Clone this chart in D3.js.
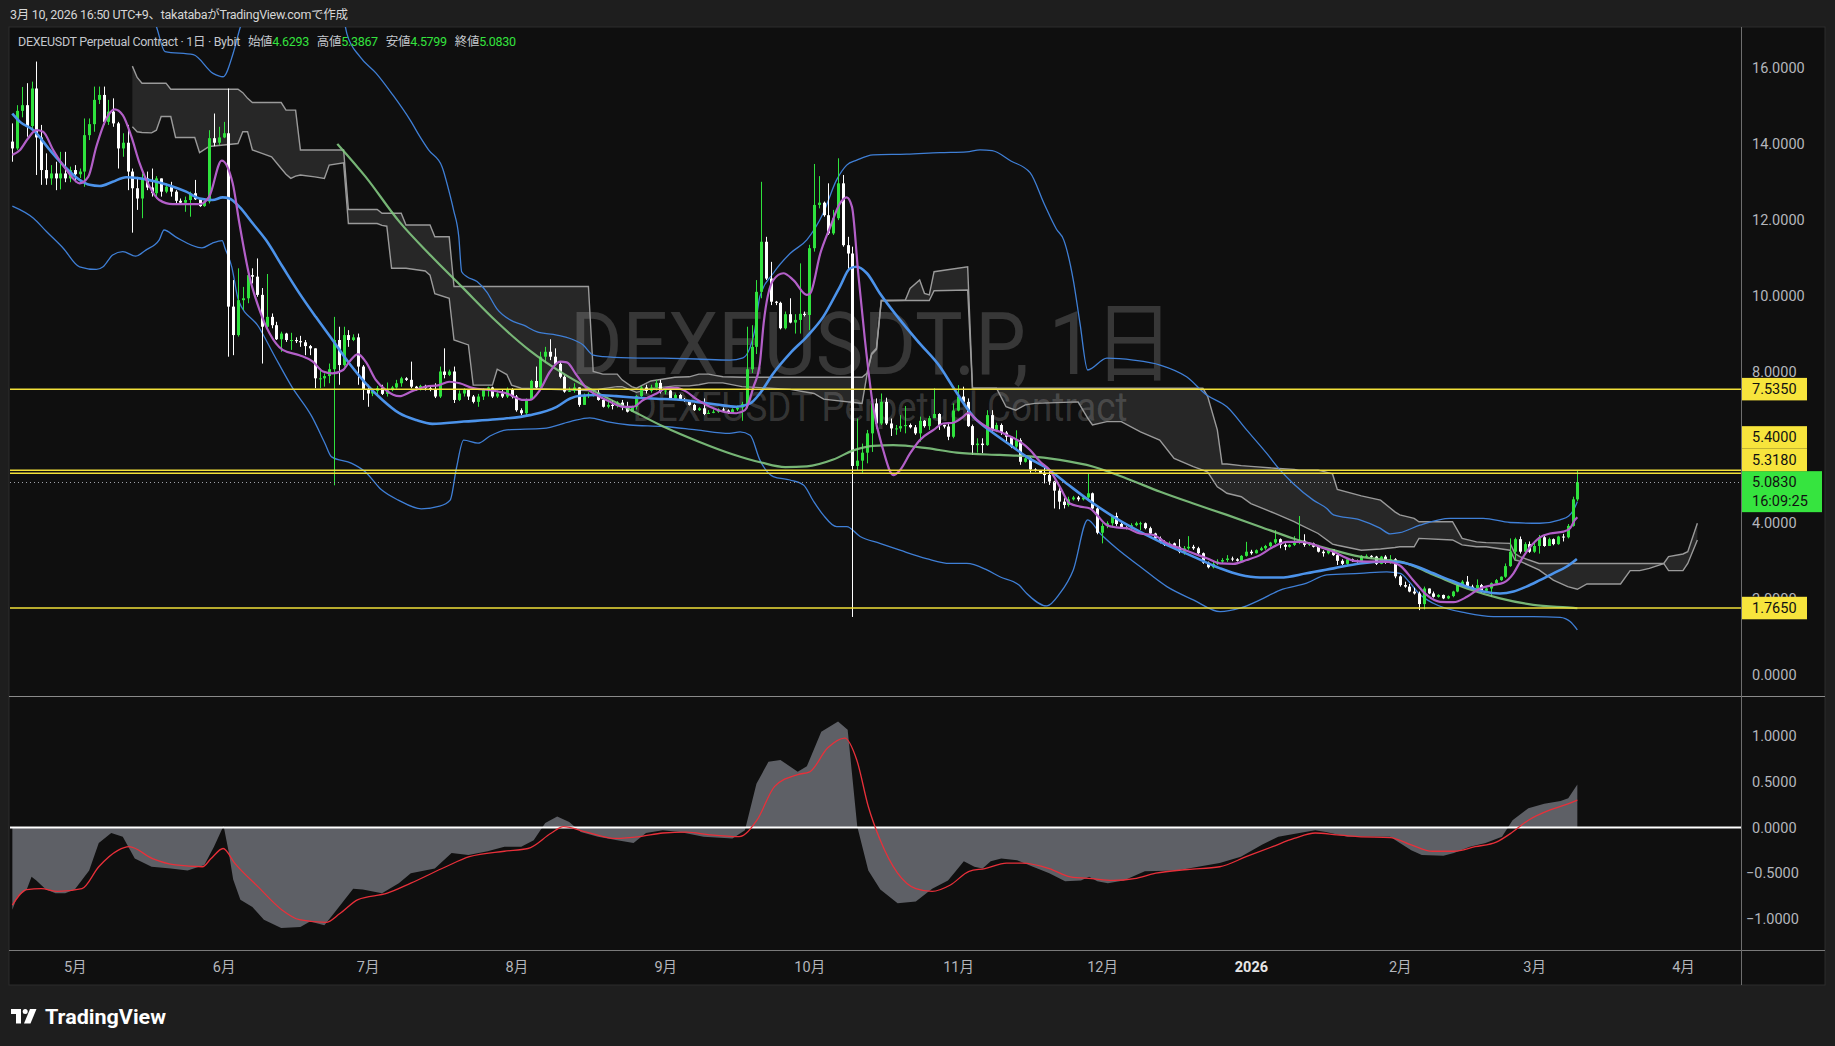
<!DOCTYPE html>
<html><head><meta charset="utf-8">
<script src="https://cdn.jsdelivr.net/npm/d3@7"></script>
<style>
html,body{margin:0;padding:0;background:#1e1e1e;overflow:hidden;}
svg{display:block;}
text{font-family:"Roboto","Noto Sans","Noto Sans CJK JP",sans-serif;}
</style></head><body>
<svg id="c" width="1835" height="1046"></svg>
<script>
// ---------------- DATA ----------------
// daily candles, first candle = 2025-04-18 (day -258 relative to 2026-01-01), last = 2026-03-10
const firstDay = -258;
const firstOpen = 14.06;
const lastOpen = 4.6293;
const closes = [
13.88,14.87,15.02,14.47,15.46,14.17,13.31,13.09,13.22,13.09,
13.22,13.09,13.31,13.2,13.27,14.23,14.52,15.16,15.29,14.58,
14.85,14.54,13.88,14.03,13.27,12.83,12.56,13.09,12.85,12.7,
13.09,12.74,12.87,12.74,12.5,12.45,12.52,12.7,12.54,12.36,
12.48,14.15,14.03,14.17,14.28,9.71,8.96,9.88,9.93,10.54,
10.5,10.02,9.18,9.44,9.22,8.85,9.0,8.83,8.83,8.8,
8.77,8.67,8.61,7.82,7.82,7.88,8.06,8.83,8.17,8.96,
8.83,8.9,8.13,7.53,7.42,7.49,7.56,7.41,7.51,7.58,
7.69,7.82,7.78,7.6,7.56,7.62,7.56,7.53,7.34,8.0,
7.91,8.0,7.25,7.42,
7.51,7.34,7.2,7.34,7.53,7.58,7.34,7.42,7.34,7.53,
7.34,6.98,6.9,7.25,7.75,7.58,8.39,8.52,8.39,8.2,
7.86,7.47,7.49,7.58,7.12,7.38,7.41,7.44,7.25,7.07,
7.12,7.09,7.18,7.09,6.94,7.07,7.35,7.58,7.49,7.58,
7.7,7.47,7.5,7.29,7.38,7.25,7.23,7.12,6.98,7.03,
6.88,6.91,6.94,7.0,6.97,6.91,7.0,7.05,7.14,8.06,
8.65,10.1,11.42,10.45,9.84,9.81,9.14,9.51,9.29,9.36,
9.52,9.49,11.25,12.39,12.45,12.12,11.64,12.04,12.96,11.33,
11.11,5.51,5.65,5.86,6.37,7.16,6.63,7.2,6.63,6.5,
6.5,6.56,6.59,6.53,6.37,6.7,6.56,6.77,6.88,6.59,
6.55,6.28,6.97,7.34,7.2,6.56,6.06,6.1,6.06,6.85,
6.46,6.59,
6.39,6.28,6.02,6.19,5.62,5.71,5.42,5.39,5.33,5.27,
5.1,4.86,4.57,4.48,4.63,4.68,4.63,4.68,4.79,4.39,
3.75,3.93,4.0,4.19,3.98,3.89,3.87,3.95,4.0,4.0,
3.87,3.73,3.6,3.51,3.43,3.47,3.38,3.25,3.34,3.38,
3.34,3.21,2.96,2.84,2.93,2.99,3.03,3.07,3.05,3.01,
3.14,3.25,3.21,3.29,3.34,3.4,3.49,3.58,3.43,3.38,
3.43,3.51,3.54,3.43,3.47,3.38,3.25,3.21,3.31,3.16,
3.01,2.93,3.05,3.01,2.99,3.14,3.14,3.12,2.93,3.12,
2.96,3.05,2.6,2.37,2.33,2.2,2.15,1.87,2.28,2.15,
2.06,2.11,2.02,2.08,2.2,2.37,2.46,2.33,2.28,2.37,
2.22,2.28,2.42,2.5,2.59,2.87,3.25,3.58,3.25,3.45,
3.25,3.4,3.63,3.4,3.58,3.45,3.65,3.63,3.93,4.63,
5.083];
const highs = [
14.54,15.02,15.5,15.6,15.64,16.17,14.5,13.75,13.44,13.53,
13.79,13.79,13.4,13.44,13.35,14.67,14.67,15.51,15.51,15.51,
15.16,15.2,14.58,14.28,14.5,13.35,13.13,13.22,13.27,13.35,
13.15,13.09,12.96,13.0,12.78,12.56,12.61,12.74,13.05,12.56,
12.5,14.36,14.8,14.45,14.58,15.46,10.41,10.72,10.23,10.67,
10.72,10.98,10.2,10.57,9.53,9.31,9.05,9.02,9.02,8.9,
8.94,8.83,8.7,8.61,8.08,7.95,8.21,9.44,9.18,9.18,
9.09,8.98,9.0,8.17,7.65,7.55,7.62,7.65,7.71,7.62,
7.78,7.86,7.85,8.26,7.62,7.65,7.65,7.6,7.69,8.13,
8.61,8.05,8.13,7.5,
7.56,7.53,7.38,7.41,7.56,7.6,7.6,7.5,7.53,7.58,
7.56,7.38,7.03,7.29,7.78,8.13,8.52,8.65,8.85,8.61,
8.26,7.9,7.58,7.69,7.56,7.42,7.45,7.5,7.51,7.3,
7.2,7.25,7.22,7.25,7.2,7.1,7.38,7.62,7.65,7.65,
7.78,7.78,7.55,7.56,7.42,7.41,7.3,7.25,7.15,7.06,
7.29,6.98,7.0,7.03,7.05,7.0,7.03,7.1,7.2,9.18,
9.22,10.41,13.0,11.55,10.89,9.86,9.84,9.58,9.93,9.51,
10.85,9.58,11.34,13.47,13.15,12.48,12.96,12.26,13.62,13.18,
11.55,11.29,6.76,6.1,6.46,7.29,7.29,7.42,7.31,6.76,
6.59,6.85,7.09,6.63,6.59,6.81,6.72,6.83,7.56,6.9,
6.6,6.63,7.16,7.64,7.6,7.29,6.6,6.24,6.24,6.98,
6.98,6.65,
6.63,6.43,6.3,6.45,6.24,5.75,5.75,5.45,5.4,5.49,
5.4,5.12,4.96,4.66,4.7,4.72,4.72,4.72,5.32,4.81,
4.44,4.0,4.05,4.22,4.28,4.02,3.92,4.0,4.04,4.04,
4.02,3.91,3.75,3.65,3.55,3.52,3.49,3.58,3.4,3.66,
3.43,3.38,3.23,2.99,2.99,3.05,3.08,3.16,3.12,3.08,
3.16,3.51,3.3,3.31,3.38,3.43,3.51,3.82,3.6,3.47,
3.45,3.66,4.19,3.71,3.5,3.49,3.43,3.29,3.34,3.31,
3.18,3.05,3.08,3.07,3.04,3.16,3.18,3.16,3.14,3.14,
3.16,3.16,3.08,2.63,2.46,2.4,2.3,2.2,2.33,2.23,
2.2,2.13,2.12,2.1,2.22,2.42,2.5,2.61,2.38,2.52,
2.4,2.31,2.44,2.53,2.6,2.94,3.6,3.62,3.65,3.5,
3.52,3.48,3.69,3.69,3.62,3.6,3.67,3.72,3.98,4.7,
5.3867];
const lows = [
13.53,13.84,14.7,14.19,14.35,13.18,12.92,12.92,12.92,12.78,
12.8,12.99,12.99,12.99,13.1,12.87,14.1,14.32,15.05,14.5,
14.5,14.45,13.35,13.66,12.78,11.66,12.26,12.04,12.78,12.61,
12.56,12.61,12.7,12.61,12.39,12.39,12.21,12.08,12.52,12.34,
12.34,12.43,13.94,13.97,14.15,8.39,8.43,8.92,9.62,9.8,
10.32,9.97,8.21,9.1,9.14,8.83,8.52,8.78,8.57,8.75,
8.65,8.43,8.43,7.56,7.56,7.6,7.69,5.0,7.65,8.13,
8.65,8.8,7.65,7.25,7.07,7.35,7.38,7.38,7.34,7.48,
7.55,7.6,7.75,7.56,7.5,7.5,7.5,7.48,7.3,7.3,
7.82,7.88,7.17,7.22,
7.34,7.25,7.16,7.07,7.25,7.34,7.3,7.3,7.3,7.3,
7.29,6.94,6.85,6.81,7.25,7.56,7.56,8.22,8.3,8.17,
7.82,7.44,7.46,7.44,7.07,7.14,7.3,7.34,7.23,7.05,
7.03,7.0,7.05,6.98,6.92,6.94,7.0,7.33,7.42,7.44,
7.5,7.42,7.4,7.25,7.25,7.23,7.2,7.1,6.96,6.96,
6.85,6.88,6.9,6.91,6.94,6.88,6.9,6.96,6.7,7.03,
7.96,8.46,9.93,10.41,9.75,9.75,9.11,9.11,9.27,9.0,
9.0,9.45,9.09,11.16,12.3,12.08,11.6,11.6,11.99,11.29,
10.68,1.53,5.4,5.33,5.58,5.88,6.5,6.59,6.59,6.3,
6.33,6.41,6.37,6.5,6.33,6.15,6.52,6.46,6.83,6.46,
6.5,6.19,6.24,6.95,7.15,6.54,5.8,5.86,5.85,6.04,
6.37,6.4,
6.33,6.1,5.98,5.93,5.54,5.6,5.33,5.36,5.3,5.05,
5.01,4.39,4.37,4.39,4.44,4.6,4.58,4.6,4.6,4.37,
3.71,3.47,3.87,3.93,3.93,3.87,3.84,3.82,3.92,3.82,
3.84,3.69,3.58,3.47,3.4,3.4,3.35,3.21,3.17,3.3,
3.3,3.16,2.93,2.81,2.81,2.9,2.95,2.98,3.0,2.99,
2.99,3.12,3.17,3.2,3.27,3.3,3.36,3.45,3.34,3.29,
3.36,3.4,3.45,3.38,3.4,3.36,3.23,3.12,3.18,3.14,
2.9,2.9,2.9,2.98,2.96,2.97,3.08,3.07,2.9,2.92,
2.93,2.93,2.55,2.33,2.3,2.18,2.12,1.71,1.73,2.13,
2.04,2.04,2.0,2.0,2.05,2.18,2.35,2.31,2.25,2.24,
2.17,2.2,2.06,2.4,2.48,2.56,2.85,3.03,3.2,3.2,
3.22,3.22,3.2,3.38,3.4,3.42,3.43,3.52,3.6,3.91,
4.5799];

// Ichimoku cloud [day, upper edge, lower edge]
const cloudPts = [
[-233,16.05,14.45],[-232,15.75,14.32],[-231,15.6,14.3],[-229,15.6,14.29],[-228,15.6,14.36],[-227,15.6,14.72],
[-226,15.6,14.72],[-225,15.44,14.72],[-224,15.44,14.17],[-220,15.44,14.17],[-219,15.44,13.77],[-217,15.44,13.93],
[-211,15.44,14.01],[-210,15.35,14.32],[-209,15.2,14.32],[-208,15.09,13.84],[-206,15.09,13.75],[-204,15.09,13.66],
[-202,15.09,13.35],[-201,14.89,13.2],[-200,14.89,13.09],[-199,14.89,13.15],[-198,13.84,13.18],[-195,13.84,13.13],
[-193,13.84,13.09],[-192,13.84,13.44],[-189,13.84,13.5],[-188,12.27,11.9],[-182,12.27,11.9],[-181,12.17,11.85],
[-180,12.17,11.83],[-179,12.17,10.72],[-177,12.17,10.72],[-176,11.86,10.72],[-172,11.86,10.65],[-171,11.86,10.54],
[-170,11.55,10.05],[-167,11.55,9.93],[-166,10.24,8.83],[-163,10.24,8.7],[-162,10.24,7.64],[-158,10.24,7.64],
[-157,10.24,8.06],[-155,10.24,7.92],[-154,10.24,7.64],[-152,10.24,7.56],[-138,10.24,7.5],[-137,8.0,7.5],
[-135,7.93,7.55],[-132,7.93,7.6],[-131,7.78,7.6],[-129,7.6,7.5],[-128,7.56,7.45],[-125,7.75,7.55],
[-120,7.85,7.62],[-117,7.86,7.62],[-115,7.93,7.65],[-113,7.93,7.7],[-110,7.86,7.7],[-106,7.85,7.6],
[-96,7.85,7.53],[-91,7.85,7.42],[-89,7.85,7.27],[-81,7.85,7.16],[-80,7.95,7.9],[-79,8.48,8.45],
[-78,8.61,8.58],[-77,9.88,9.86],[-72,9.88,9.87],[-71,10.19,9.87],[-69,10.41,9.87],[-68,10.06,9.87],
[-67,10.02,9.87],[-66,10.63,10.13],[-59,10.76,10.15],[-58,7.56,7.56],[-53,7.56,7.56],[-51,7.56,7.07],
[-49,7.56,6.98],[-47,7.56,7.12],[-45,7.56,7.16],[-36,7.56,7.2],[-34,7.56,6.77],[-33,7.56,6.59],
[-30,7.56,6.68],[-27,7.56,6.68],[-23,7.56,6.41],[-19,7.56,6.19],[-16,7.56,5.71],[-12,7.56,5.49],
[-10,7.56,5.4],[-9,7.34,5.35],[-7,6.46,4.96],[-6,5.56,4.88],[-5,5.56,4.79],[-2,5.52,4.7],
[0,5.5,4.52],[5,5.45,4.26],[9,5.42,4.04],[10,5.4,3.98],[14,5.4,3.73],[17,5.3,3.45],
[18,4.89,3.42],[23,4.72,3.29],[27,4.61,3.32],[30,4.3,3.36],[31,4.22,3.38],[34,4.13,3.38],
[35,4.04,3.6],[42,4.04,3.56],[44,3.6,3.43],[47,3.51,3.38],[49,3.49,3.38],[54,3.47,3.29],
[55,3.2,3.03],[56,3.12,3.0],[60,2.94,2.77],[63,2.94,2.5],[66,2.94,2.33],[68,2.94,2.26],
[70,2.94,2.4],[77,2.94,2.4],[79,2.94,2.75],[81,2.94,2.75],[83,2.94,2.81],[86,2.94,2.94],
[87,3.12,2.75],[90,3.19,2.75],[91,3.25,2.94],[93,4.0,3.56]];

// Bollinger bands [day, value]
const bbUpper = [
[-258,17.9],[-235,17.8],[-229,17.4],[-228,17.09],[-226.2,16.43],[-220.3,16.35],[-216.2,15.86],[-214.1,15.77],
[-212,16.39],[-210.6,17.04],[-205,18.2],[-195,18.6],[-189,17.3],[-188.3,16.9],[-185.6,16.3],[-182.2,15.86],
[-178.8,15.3],[-175,14.6],[-173.1,14.19],[-171.3,13.84],[-168.5,13.4],[-167.1,12.78],[-166.1,12.26],[-165,11.55],
[-164.4,10.63],[-163.3,10.5],[-161.2,10.37],[-159.2,10.1],[-157.1,9.66],[-154.3,9.36],[-151.5,9.22],[-148.8,9.05],
[-144.6,8.96],[-141.8,8.87],[-139.1,8.7],[-137,8.43],[-134.9,8.39],[-129.4,8.36],[-122.4,8.35],[-115.5,8.33],
[-108.6,8.3],[-105.8,8.36],[-104.4,8.61],[-103.4,9.05],[-102.3,9.97],[-99.5,10.59],[-96,11.11],[-92.5,11.47],
[-89.1,12.17],[-86.3,13.05],[-84.2,13.44],[-82.1,13.57],[-78.7,13.71],[-71.7,13.73],[-64.8,13.77],[-59.2,13.79],
[-56.4,13.84],[-53.9,13.82],[-50,13.55],[-46,13.24],[-43,12.4],[-40.5,11.75],[-39,11.47],[-37,10.41],
[-35.6,9.27],[-34,8.04],[-30,8.35],[-24.5,8.3],[-18.9,8.17],[-13.4,7.86],[-9.2,7.38],[-5,7.07],
[-0.9,6.46],[3.3,5.84],[6.1,5.4],[8.8,5.05],[13,4.61],[15.8,4.39],[17.2,4.22],[22.7,4.09],
[26.9,3.87],[29,3.72],[31,3.75],[35.2,3.95],[41.5,4.13],[48.4,4.13],[54,4.02],[60.2,4.0],
[64.4,4.09],[66.2,4.19],[67.2,4.35],[68,4.57]];
const bbBasis = [
[-258,14.8],[-256.4,14.58],[-253.6,14.36],[-250.2,13.84],[-246.7,13.35],[-244,13.05],[-241.9,12.92],[-239.8,12.89],
[-237.1,13.0],[-234.3,13.12],[-231.5,13.09],[-228,13.0],[-224.5,12.87],[-221.8,12.74],[-219,12.56],[-216.3,12.52],
[-214.2,12.59],[-212.8,12.56],[-210.7,12.34],[-207.9,11.9],[-205.2,11.47],[-201.7,10.76],[-198.2,10.06],[-194.8,9.44],
[-191.3,8.83],[-187.8,8.21],[-184.4,7.69],[-180.9,7.25],[-177.4,6.9],[-173.9,6.72],[-170.5,6.62],[-164,6.68],
[-157.1,6.74],[-150.2,6.85],[-144.6,7.07],[-141.8,7.29],[-139.8,7.36],[-136.3,7.38],[-132.2,7.35],[-128,7.31],
[-123.8,7.28],[-119.7,7.26],[-115.5,7.2],[-111.3,7.13],[-107.2,7.07],[-104.3,7.16],[-102.3,7.42],[-99.5,7.95],
[-96,8.48],[-92.5,8.92],[-89.1,9.44],[-85.6,10.24],[-83.5,10.72],[-82.1,10.76],[-80,10.59],[-77.3,10.06],
[-73.1,9.36],[-69,8.74],[-64.8,8.13],[-62.1,7.6],[-57.8,6.81],[-53.6,6.37],[-50,6.05],[-46.7,5.75],
[-42.5,5.45],[-38.4,5.05],[-32.8,4.52],[-28.6,4.17],[-24.5,3.87],[-18.9,3.51],[-12,3.12],[-6.4,2.81],
[-2.3,2.64],[1.9,2.57],[6.1,2.57],[11.6,2.68],[17.2,2.81],[22.7,2.94],[28.3,2.99],[31.1,2.97],
[34.5,2.86],[38,2.68],[41.5,2.5],[45,2.33],[48.4,2.2],[51.9,2.15],[54.7,2.2],[57.4,2.33],
[60.2,2.5],[63,2.68],[65.8,2.86],[67.9,3.06]];
const bbLower = [
[-258,12.36],[-253.6,12.04],[-250.9,11.69],[-247.4,11.25],[-244,10.76],[-240.5,10.69],[-239.1,10.76],[-237.1,11.07],
[-235,11.16],[-232.3,11.04],[-230.2,11.2],[-227.4,11.47],[-226.4,11.73],[-224,11.55],[-218.5,11.26],[-216.4,11.38],
[-214.3,11.45],[-213.7,11.25],[-212.3,10.76],[-210.9,9.88],[-206.7,9.18],[-203.3,8.39],[-199.8,7.6],[-195.6,6.81],
[-192.9,6.11],[-191.5,5.75],[-187.3,5.58],[-184.5,5.36],[-181.1,4.88],[-177.6,4.61],[-172.8,4.38],[-169,4.45],
[-166.8,4.61],[-165.5,5.45],[-164,6.19],[-161,6.11],[-158.5,6.3],[-155,6.46],[-147.4,6.5],[-141.8,6.68],
[-137.7,6.78],[-134.2,6.68],[-129.4,6.59],[-122.4,6.55],[-115.5,6.46],[-108.6,6.37],[-106.4,6.41],[-104.3,6.32],
[-102.3,5.67],[-99.5,5.23],[-96,5.14],[-93.2,5.01],[-91.2,4.6],[-89.1,4.22],[-86.3,3.91],[-84.2,3.91],
[-81.4,3.65],[-77.3,3.47],[-73.1,3.29],[-67.6,3.07],[-62.7,2.94],[-59.2,2.94],[-55,2.77],[-52.3,2.59],
[-48.3,2.37],[-46.7,2.15],[-42.5,1.82],[-39.8,2.15],[-37,2.77],[-34,4.09],[-31.4,3.73],[-28,3.34],
[-23.1,2.86],[-17.5,2.33],[-12,1.98],[-6.4,1.67],[-2.3,1.76],[1.9,1.98],[6.1,2.24],[11.6,2.42],
[15.8,2.64],[22.7,2.68],[28.3,2.72],[31.1,2.68],[33,2.45],[35.2,2.12],[38,1.89],[45,1.63],
[50.5,1.54],[58.8,1.54],[64.4,1.52],[66.5,1.41],[68,1.19]];

// short moving average (purple)
const maShort = [
[-258,13.71],[-256.4,13.84],[-254.7,14.15],[-253,14.36],[-251.6,14.32],[-249.5,13.84],[-246.7,13.31],[-244,12.96],
[-242.2,13.13],[-240.5,13.93],[-238.4,14.67],[-236.7,14.91],[-235,14.76],[-233.2,14.19],[-231.5,13.49],[-229.4,12.87],
[-227.4,12.52],[-224.6,12.41],[-221.8,12.41],[-219,12.41],[-217,12.61],[-214.4,13.56],[-212.1,12.96],[-210.7,11.9],
[-208.6,10.5],[-206.5,9.62],[-204.4,9.0],[-201.7,8.57],[-198.2,8.43],[-195.4,8.26],[-193.3,8.0],[-191.3,7.95],
[-189.1,8.04],[-187.8,8.26],[-186,8.46],[-184.4,8.26],[-182.3,7.78],[-180.2,7.51],[-177.4,7.35],[-174.6,7.49],
[-171.8,7.6],[-169.1,7.64],[-167,7.73],[-164.8,7.69],[-162,7.56],[-158.5,7.51],[-155,7.42],[-151.5,7.25],
[-150.2,7.25],[-148.1,7.51],[-146,8.0],[-143.9,8.26],[-142.5,8.24],[-140.5,7.91],[-138.4,7.56],[-136.3,7.38],
[-133.5,7.2],[-130.7,7.07],[-128.7,7.07],[-126.6,7.25],[-123.8,7.42],[-121.7,7.56],[-119.7,7.57],[-117.6,7.47],
[-115.5,7.27],[-112.7,7.07],[-109.9,6.94],[-107.2,6.9],[-105.4,6.98],[-103.6,7.6],[-102.3,8.2],[-101.5,9.27],
[-99.5,10.41],[-97.4,10.59],[-95.3,10.41],[-92.5,10.02],[-91.8,10.06],[-89.7,11.11],[-87.6,11.82],[-85.6,12.43],
[-84.2,12.59],[-83.1,12.34],[-81.8,10.59],[-80.4,8.83],[-78.7,7.07],[-76.6,5.93],[-74.5,5.27],[-73.1,5.4],
[-71,5.84],[-69,6.19],[-66.1,6.46],[-64.1,6.63],[-62,6.65],[-59.9,6.81],[-58.9,6.91],[-57.1,6.72],
[-54.4,6.5],[-52.3,6.41],[-50.9,6.33],[-48.1,6.15],[-46,5.93],[-43.9,5.62],[-41.9,5.4],[-39.8,4.96],
[-37.7,4.52],[-35.6,4.44],[-33.5,4.39],[-32.1,4.22],[-30,3.95],[-28,3.89],[-25.9,3.87],[-23.1,3.73],
[-20.3,3.69],[-17.5,3.47],[-14.8,3.34],[-12,3.21],[-9.2,3.08],[-6.4,2.94],[-3.7,2.93],[-0.9,3.03],
[1.9,3.16],[4.7,3.38],[7.5,3.51],[10.2,3.51],[12.3,3.47],[15.1,3.34],[17.2,3.25],[19.3,3.12],
[21.4,3.01],[24.1,2.99],[27.6,2.99],[29.7,2.96],[31.1,2.88],[33.8,2.5],[36.6,2.11],[39.4,1.93],
[42.2,1.92],[45,2.06],[47.7,2.28],[50.5,2.37],[52.6,2.43],[54.7,2.68],[56.1,2.99],[58.2,3.38],
[60.2,3.63],[62.3,3.73],[65.1,3.78],[66.5,3.87],[67.5,4.09],[68,4.16]];

// long moving average (green)
const maLong = [
[-190.3,14.0],[-184.4,13.13],[-177.4,11.95],[-170.8,11.05],[-164.5,10.25],[-157.1,9.31],[-150.2,8.55],[-143.3,7.95],
[-136.3,7.45],[-129.4,7.0],[-122.4,6.55],[-115,6.15],[-108,5.82],[-102,5.6],[-97,5.48],[-92.5,5.5],
[-87,5.68],[-82.8,5.92],[-78.7,6.04],[-74.5,6.06],[-67.5,5.98],[-61.3,5.86],[-52.3,5.8],[-46.7,5.77],
[-39.8,5.67],[-32.8,5.49],[-25.9,5.18],[-18.9,4.83],[-12,4.52],[-5,4.22],[1.9,3.91],[8.8,3.6],
[15.8,3.34],[22.7,3.12],[29.7,3.01],[31.1,2.99],[38,2.64],[45,2.28],[51.9,2.02],[58.8,1.85],
[65.8,1.78],[68,1.76]];

// lower pane oscillator (gray area) and its signal (red)
const oscHist = [
[-258,-0.9],[-257,-0.76],[-255,-0.68],[-254,-0.54],[-253,-0.58],[-251,-0.68],[-249,-0.72],[-247,-0.72],
[-245,-0.68],[-242,-0.47],[-240,-0.17],[-237.4,-0.06],[-235,-0.1],[-232.5,-0.34],[-229,-0.43],[-225,-0.45],
[-221.5,-0.47],[-218,-0.41],[-216,-0.21],[-214,0.02],[-213,-0.25],[-212,-0.57],[-210.5,-0.79],[-208,-0.87],
[-205.6,-1.01],[-202,-1.1],[-198,-1.09],[-196,-1.03],[-193,-1.07],[-191,-0.94],[-187,-0.67],[-185,-0.68],
[-181,-0.72],[-177.5,-0.61],[-175,-0.5],[-170,-0.45],[-166.5,-0.28],[-163,-0.3],[-159,-0.26],[-155.5,-0.21],
[-152,-0.21],[-149.4,-0.14],[-147,0.05],[-144.5,0.12],[-142,0.06],[-139.6,-0.05],[-136,-0.1],[-132,-0.14],
[-128.6,-0.17],[-126,-0.06],[-122.5,-0.03],[-119,-0.05],[-114,-0.1],[-108,-0.12],[-105.4,-0.03],[-103,0.48],
[-100.5,0.72],[-98,0.74],[-94.4,0.61],[-92.5,0.67],[-89.5,1.05],[-86,1.16],[-84,1.07],[-82,0.01],
[-79.7,-0.47],[-77.2,-0.68],[-73.6,-0.83],[-69.8,-0.81],[-66.4,-0.67],[-63.1,-0.58],[-61.5,-0.48],[-59.8,-0.37],
[-57.6,-0.43],[-55.9,-0.45],[-54.2,-0.37],[-52,-0.34],[-48.7,-0.36],[-45.4,-0.43],[-42,-0.5],[-38.7,-0.59],
[-35.4,-0.58],[-33.7,-0.54],[-32,-0.59],[-29.8,-0.61],[-26.5,-0.58],[-22.1,-0.48],[-15.4,-0.47],[-11,-0.43],
[-6.5,-0.39],[-2.1,-0.32],[2.3,-0.19],[5.7,-0.1],[10.1,-0.06],[13.4,-0.03],[15.6,-0.05],[20.1,-0.1],
[24.5,-0.1],[29,-0.1],[33.4,-0.25],[35.6,-0.3],[40.1,-0.31],[42.3,-0.28],[45.6,-0.21],[48.9,-0.17],
[52.3,-0.1],[54.5,0.08],[57.8,0.21],[61.1,0.26],[64.5,0.29],[66.1,0.32],[68,0.47]];
const oscSignal = [
[-258,-0.85],[-255,-0.68],[-252,-0.67],[-248.5,-0.7],[-243.5,-0.67],[-240,-0.43],[-236,-0.25],[-233.7,-0.21],
[-228.8,-0.34],[-224,-0.41],[-218.4,-0.43],[-216.6,-0.34],[-214.1,-0.23],[-211.7,-0.39],[-206.8,-0.65],[-201.9,-0.9],
[-198.2,-1.01],[-192.7,-1.04],[-189.7,-0.94],[-186,-0.79],[-179.9,-0.72],[-175,-0.61],[-167.7,-0.43],[-162.8,-0.32],
[-155.5,-0.26],[-150.6,-0.23],[-145.7,-0.06],[-143.2,0.01],[-138.4,-0.05],[-132.2,-0.12],[-127.3,-0.1],[-122.5,-0.06],
[-117.6,-0.05],[-112.7,-0.08],[-106.6,-0.1],[-102.9,0.08],[-99.2,0.45],[-94.4,0.58],[-91.9,0.61],[-88.2,0.87],
[-84.6,0.98],[-82.1,0.74],[-79.7,0.23],[-77.2,-0.14],[-73.6,-0.5],[-69.8,-0.67],[-66.4,-0.7],[-62.6,-0.63],
[-58.7,-0.48],[-55.4,-0.45],[-50.9,-0.39],[-47.6,-0.39],[-42,-0.45],[-37.6,-0.54],[-33.2,-0.56],[-28.7,-0.58],
[-24.3,-0.56],[-19.8,-0.5],[-13.2,-0.46],[-6.5,-0.43],[-1,-0.32],[4.5,-0.21],[9,-0.12],[13.4,-0.06],
[17.9,-0.08],[22.3,-0.1],[29,-0.11],[33.4,-0.19],[37.8,-0.26],[42.3,-0.26],[46.7,-0.21],[51.1,-0.16],
[54.5,-0.05],[57.8,0.08],[62.2,0.19],[65.6,0.25],[68,0.3]];

// horizontal levels and axis ticks (6.0000 is hidden behind the level labels in the reference)
const levelLines = [7.535, 5.4, 5.318, 1.765];
const priceTicks = [0,2,4,8,10,12,14,16];
const oscTicks = [-1,-0.5,0,0.5,1];
const timerText = "16:09:25";
const headerText = "3月 10, 2026 16:50 UTC+9、takatabaがTradingView.comで作成";
const symbolText = "DEXEUSDT Perpetual Contract · 1日 · Bybit";
const watermark1 = "DEXEUSDT.P, 1日";
const watermark2 = "DEXEUSDT Perpetual Contract";

// ---------------- DRAW ----------------
const W = 1835, H = 1046, DAY = 864e5, T0 = Date.UTC(2026,0,1);
const dt = d => new Date(T0 + d*DAY);
const svg = d3.select('#c');
const L = {x0:10, x1:1741, top:27, pBot:696, oTop:697, oBot:950, aBot:985, right:1825};

const x = d3.scaleUtc().domain([dt(-258.49), dt(102.09)]).range([L.x0, L.x1]);
const yP = d3.scaleLinear().domain([0,16]).range([675,68]);
const yO = d3.scaleLinear().domain([-1,1]).range([918.8,736.2]);

const UP = '#2fe23d', DN = '#ffffff';
const pts = arr => arr.map(([d,v]) => ({date: dt(d), v}));

// backgrounds
svg.append('rect').attr('width',W).attr('height',H).attr('fill','#1e1e1e');
svg.append('rect').attr('x',9).attr('y',L.top).attr('width',L.right-9).attr('height',L.aBot-L.top)
  .attr('fill','#0f0f0f').attr('stroke','#2c2c2c');

const defs = svg.append('defs');
defs.append('clipPath').attr('id','cp').append('rect').attr('x',L.x0).attr('y',L.top).attr('width',L.x1-L.x0).attr('height',L.pBot-L.top);
defs.append('clipPath').attr('id','co').append('rect').attr('x',L.x0).attr('y',L.oTop).attr('width',L.x1-L.x0).attr('height',L.oBot-L.oTop);

const gP = svg.append('g').attr('clip-path','url(#cp)');
// watermark
gP.append('text').attr('x',872).attr('y',374).attr('text-anchor','middle')
  .attr('font-family','"Noto Sans","Noto Sans CJK JP",sans-serif').attr('font-size',88)
  .attr('fill','rgba(255,255,255,0.17)').attr('textLength',604).attr('lengthAdjust','spacingAndGlyphs').text(watermark1);
gP.append('text').attr('x',880).attr('y',421).attr('text-anchor','middle')
  .attr('font-family','"Noto Sans",sans-serif').attr('font-size',40)
  .attr('fill','rgba(255,255,255,0.17)').attr('textLength',495).attr('lengthAdjust','spacingAndGlyphs').text(watermark2);

// cloud
const cloud = cloudPts.map(([d,u,l]) => ({date: dt(d), u, l}));
gP.append('path').datum(cloud).attr('fill','rgba(255,255,255,0.1)')
  .attr('d', d3.area().x(p=>x(p.date)).y0(p=>yP(p.l)).y1(p=>yP(p.u)));
['u','l'].forEach(k => gP.append('path').datum(cloud).attr('fill','none').attr('stroke','#9a9a9a').attr('stroke-width',1.4)
  .attr('d', d3.line().x(p=>x(p.date)).y(p=>yP(p[k]))));

const smooth = d3.line().x(p=>x(p.date)).y(p=>yP(p.v)).curve(d3.curveMonotoneX);
// bollinger outer bands
[bbUpper, bbLower].forEach(a => gP.append('path').datum(pts(a)).attr('fill','none')
  .attr('stroke','#3f7fd6').attr('stroke-width',1.3).attr('d', smooth));

// candles
const candles = closes.map((c,i) => {
  const o = i===0 ? firstOpen : (i===closes.length-1 ? lastOpen : closes[i-1]);
  return {date: dt(firstDay+i), o, c, h: Math.max(highs[i],o,c), l: Math.min(lows[i],o,c)};
});
const gC = gP.append('g');
gC.selectAll('line').data(candles).join('line')
  .attr('x1',d=>Math.round(x(d.date))+0.5).attr('x2',d=>Math.round(x(d.date))+0.5)
  .attr('y1',d=>yP(d.h)).attr('y2',d=>yP(d.l))
  .attr('stroke',d=>d.c>=d.o?UP:DN).attr('stroke-width',1);
gC.selectAll('rect').data(candles).join('rect')
  .attr('x',d=>Math.round(x(d.date))-1).attr('width',3)
  .attr('y',d=>yP(Math.max(d.o,d.c))).attr('height',d=>Math.max(1,Math.abs(yP(d.o)-yP(d.c))))
  .attr('fill',d=>d.c>=d.o?UP:DN);

// moving averages
gP.append('path').datum(pts(maLong)).attr('fill','none').attr('stroke','#82c881').attr('stroke-opacity',0.9)
  .attr('stroke-width',2.2).attr('d', smooth);
gP.append('path').datum(pts(bbBasis)).attr('fill','none').attr('stroke','#4c93ea').attr('stroke-width',2.6).attr('d', smooth);
gP.append('path').datum(pts(maShort)).attr('fill','none').attr('stroke','#b35fc8').attr('stroke-width',2.2).attr('d', smooth);

// horizontal levels
levelLines.forEach(v => gP.append('line').attr('x1',L.x0).attr('x2',L.x1).attr('y1',yP(v)).attr('y2',yP(v))
  .attr('stroke','#f2e03a').attr('stroke-width',1.5));
const last = candles[candles.length-1];
gP.append('line').attr('x1',L.x0).attr('x2',L.x1).attr('y1',Math.round(yP(last.c))+0.5).attr('y2',Math.round(yP(last.c))+0.5)
  .attr('stroke','#a0a3aa').attr('stroke-width',1).attr('stroke-dasharray','1 3');

// oscillator pane
const gO = svg.append('g').attr('clip-path','url(#co)');
gO.append('path').datum(pts(oscHist)).attr('fill','#5e6066')
  .attr('d', d3.area().x(p=>x(p.date)).y0(yO(0)).y1(p=>yO(p.v)));
gO.append('line').attr('x1',L.x0).attr('x2',L.x1).attr('y1',yO(0)).attr('y2',yO(0)).attr('stroke','#ffffff').attr('stroke-width',2);
gO.append('path').datum(pts(oscSignal)).attr('fill','none').attr('stroke','#e8303a').attr('stroke-width',1.3)
  .attr('d', d3.line().x(p=>x(p.date)).y(p=>yO(p.v)).curve(d3.curveMonotoneX));

// separators
svg.append('line').attr('x1',9).attr('x2',L.right).attr('y1',L.pBot+0.5).attr('y2',L.pBot+0.5).attr('stroke','#8a8a8a');
svg.append('line').attr('x1',9).attr('x2',L.right).attr('y1',L.oBot+0.5).attr('y2',L.oBot+0.5).attr('stroke','#7a7a7a');
svg.append('line').attr('x1',L.x1+0.5).attr('x2',L.x1+0.5).attr('y1',L.top).attr('y2',L.aBot).attr('stroke','#6e6e6e');

// price axis
const fmt4 = d3.format('.4f');
const gA = svg.append('g').attr('transform',`translate(${L.x1},0)`)
  .call(d3.axisRight(yP).tickValues(priceTicks).tickFormat(fmt4).tickSize(0).tickPadding(11));
gA.select('.domain').remove();
gA.selectAll('text').attr('fill','#b4b6bc').attr('font-size',14.5).attr('font-family','Roboto,sans-serif');

const gAO = svg.append('g').attr('transform',`translate(${L.x1},0)`)
  .call(d3.axisRight(yO).tickValues(oscTicks).tickFormat(fmt4).tickSize(0).tickPadding(11));
gAO.select('.domain').remove();
gAO.selectAll('text').attr('fill','#b4b6bc').attr('font-size',14.5).attr('font-family','Roboto,sans-serif')
  .attr('dx', d => d<0 ? -6 : 0);

// time axis
const months = d3.utcMonth.range(new Date(Date.UTC(2025,4,1)), new Date(Date.UTC(2026,4,1)));
const gT = svg.append('g').attr('transform',`translate(0,${L.oBot})`)
  .call(d3.axisBottom(x).tickValues(months).tickSize(0).tickPadding(12)
    .tickFormat(d => d.getUTCMonth()===0 ? String(d.getUTCFullYear()) : (d.getUTCMonth()+1)+'月'));
gT.select('.domain').remove();
gT.selectAll('text').attr('font-size',14.5).attr('font-family','Roboto,"Noto Sans CJK JP",sans-serif')
  .attr('fill', d => d.getUTCMonth()===0 ? '#e6e6e6' : '#b4b6bc')
  .attr('font-weight', d => d.getUTCMonth()===0 ? 'bold' : 'normal');

// price labels on the axis (stacked to avoid overlap)
const boxH = 22.5;
const labels = [
  {v:last.c, fill:'#36e43f', h:41, w:80, lines:[fmt4(last.c), timerText], top: yP(last.c)-11},
];
const yellow = levelLines.slice().sort((a,b)=>a-b);
let limit = labels[0].top;
yellow.forEach(v => {
  let top = yP(v) - boxH/2;
  if (v > last.c) { if (top + boxH > limit) top = limit - boxH; limit = top; }
  labels.push({v, fill:'#f7e43c', h:boxH, w:65, lines:[fmt4(v)], top});
});
labels.forEach(b => {
  svg.append('rect').attr('x',L.x1+1).attr('y',b.top).attr('width',b.w).attr('height',b.h).attr('fill',b.fill);
  b.lines.forEach((t,i) => svg.append('text').attr('x',L.x1+11).attr('y',b.top+16+i*19)
    .attr('font-size',14.5).attr('font-family','Roboto,sans-serif').attr('fill','#111').text(t));
});

// header + legend
svg.append('text').attr('x',10).attr('y',19).attr('font-size',12.5).attr('fill','#d6d6d6')
  .attr('font-family','"Noto Sans","Noto Sans CJK JP",sans-serif').attr('textLength',338).text(headerText);
const leg = svg.append('text').attr('x',18).attr('y',46).attr('font-size',12.5)
  .attr('font-family','"Noto Sans","Noto Sans CJK JP",sans-serif').attr('fill','#c3c6cc').attr('textLength',498);
leg.append('tspan').text(symbolText);
[['始値',last.o],['高値',last.h],['安値',last.l],['終値',last.c]].forEach(([k,v]) => {
  leg.append('tspan').attr('dx',8).attr('fill','#c3c6cc').text(k);
  leg.append('tspan').attr('fill','#34e33e').text(fmt4(v));
});

// TradingView footer logo
const lg = svg.append('g').attr('transform','translate(11,1009)').attr('fill','#ffffff');
lg.append('path').attr('d','M0 0H10V14.5H5V5H0Z');
lg.append('circle').attr('cx',14.2).attr('cy',2.5).attr('r',2.5);
lg.append('path').attr('d','M19 0H25.5L19.5 14.5H13Z');
svg.append('text').attr('x',45).attr('y',1024).attr('font-size',20).attr('font-weight','bold')
  .attr('font-family','"Noto Sans",sans-serif').attr('fill','#ffffff').attr('textLength',121)
  .attr('lengthAdjust','spacingAndGlyphs').text('TradingView');
</script>
</body></html>
